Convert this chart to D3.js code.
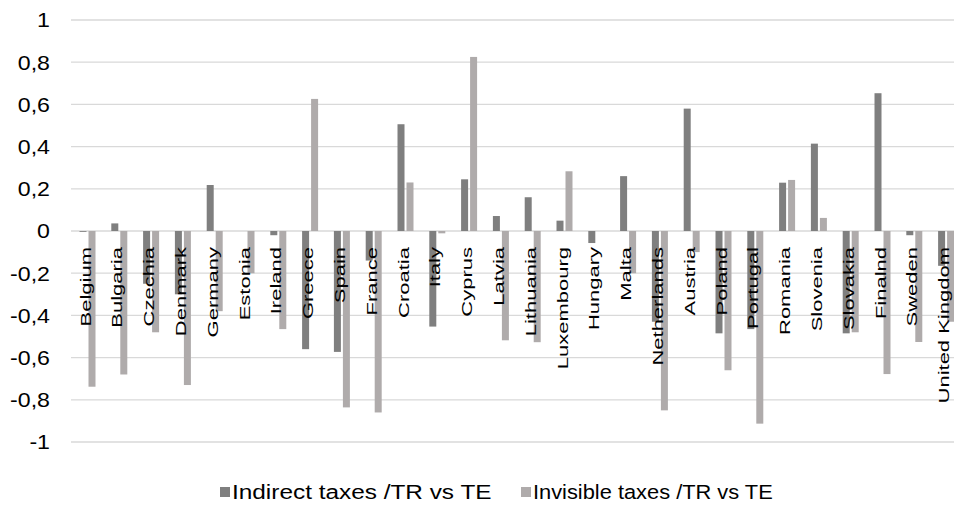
<!DOCTYPE html>
<html>
<head>
<meta charset="utf-8">
<script src="https://cdn.jsdelivr.net/npm/d3@7"></script>
<style>
  html, body { margin: 0; padding: 0; background: #fff; }
  svg { display: block; }
  text { font-family: "Liberation Sans", Arial, sans-serif; fill: #000; }
</style>
</head>
<body>
<svg id="chart" width="954" height="505"></svg>
<script>
// Countries along the horizontal axis
const countries = ["Belgium", "Bulgaria", "Czechia", "Denmark", "Germany", "Estonia", "Ireland",
  "Greece", "Spain", "France", "Croatia", "Italy", "Cyprus", "Latvia", "Lithuania", "Luxembourg",
  "Hungary", "Malta", "Netherlands", "Austria", "Poland", "Portugal", "Romania", "Slovenia",
  "Slovakia", "Finalnd", "Sweden", "United Kingdom"];

// Series names
const seriesNames = ["Indirect taxes /TR vs TE", "Invisible taxes /TR vs TE"];

// Indirect taxes /TR vs TE
const indirect = [-0.004, 0.036, -0.25, -0.30, 0.218, 0.0, -0.02, -0.56, -0.573, -0.14, 0.506,
  -0.453, 0.245, 0.071, 0.16, 0.049, -0.057, 0.26, -0.43, 0.58, -0.485, -0.465, 0.229, 0.414,
  -0.485, 0.653, -0.02, -0.165];

// Invisible taxes /TR vs TE
const invisible = [-0.738, -0.68, -0.48, -0.73, -0.38, -0.2, -0.465, 0.626, -0.836, -0.86, 0.23,
  -0.011, 0.825, -0.518, -0.527, 0.283, 0.0, -0.2, -0.85, -0.1, -0.66, -0.913, 0.242, 0.062,
  -0.48, -0.678, -0.526, -0.43];

// Value axis ticks
const yTicks = [1, 0.8, 0.6, 0.4, 0.2, 0, -0.2, -0.4, -0.6, -0.8, -1];

const colors = ["#7f7f7f", "#afabab"];
const seriesValues = [indirect, invisible];

const svg = d3.select("#chart");

const y = d3.scaleLinear().domain([-1, 1]).range([442, 20]);
const x = d3.scaleBand().domain(countries).range([71.6, 962]).paddingInner(0.497).paddingOuter(0.2485);
const xs = d3.scaleBand().domain(d3.range(seriesNames.length)).range([0, x.bandwidth()]).paddingInner(0.222);

const fmt = v => (v === 0 ? "0" : String(v).replace(".", ","));

// Horizontal gridlines
svg.append("g").selectAll("line").data(yTicks).join("line")
  .attr("x1", 71).attr("x2", 954)
  .attr("y1", d => y(d)).attr("y2", d => y(d))
  .attr("stroke", "#d9d9d9").attr("stroke-width", 1.3);

// Tick labels
svg.append("g").selectAll("text").data(yTicks).join("text")
  .attr("transform", d => `translate(50,${y(d)}) scale(1.13,1)`)
  .attr("text-anchor", "end")
  .attr("dy", "0.36em")
  .style("font-size", "20.5px")
  .text(fmt);

// Bars
seriesValues.forEach((vals, si) => {
  svg.append("g").selectAll("rect").data(vals).join("rect")
    .attr("x", (d, i) => x(countries[i]) + xs(si))
    .attr("width", xs.bandwidth())
    .attr("y", d => y(Math.max(0, d)))
    .attr("height", d => Math.abs(y(d) - y(0)))
    .attr("fill", colors[si]);
});

// Category labels, rotated and drawn over the bars
svg.append("g").selectAll("text").data(countries).join("text")
  .attr("transform", d => `translate(${x(d) + x.bandwidth() / 2 + 3},247) rotate(-90) scale(1.42,1)`)
  .attr("text-anchor", "end")
  .style("font-size", "15.5px")
  .text(d => d);

// Legend
const legendItems = [
  { name: seriesNames[0], color: colors[0], x: 220, sx: 1.25 },
  { name: seriesNames[1], color: colors[1], x: 521, sx: 1.12 }
];
const lg = svg.append("g").selectAll("g").data(legendItems).join("g");
lg.append("rect")
  .attr("x", d => d.x).attr("y", 487)
  .attr("width", 10).attr("height", 10)
  .attr("fill", d => d.color);
lg.append("text")
  .attr("transform", d => `translate(${d.x + 12},499) scale(${d.sx},1)`)
  .style("font-size", "19.5px")
  .text(d => d.name);
</script>
</body>
</html>
